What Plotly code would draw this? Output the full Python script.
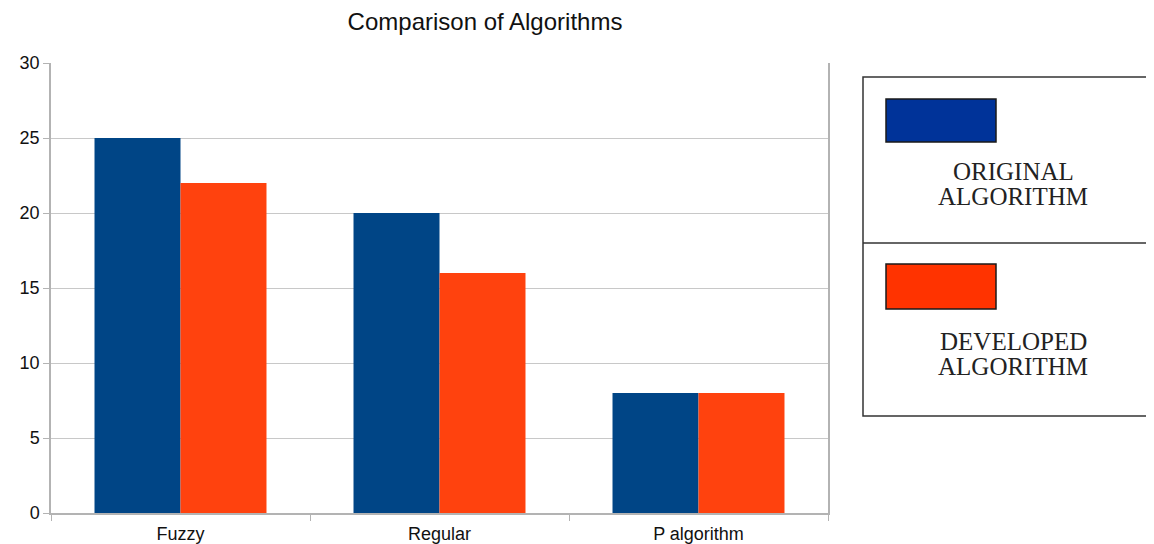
import plotly.graph_objects as go

categories = ["Fuzzy", "Regular", "P algorithm"]
original = [25, 20, 8]
developed = [22, 16, 8]
legend_lines = [["ORIGINAL", "ALGORITHM"], ["DEVELOPED", "ALGORITHM"]]
y_ticks = [0, 5, 10, 15, 20, 25, 30]

OFF = 8  # page body margin in the browser
W, H = 1154 - OFF, 544 - OFF
L, R, T, B = 51 - OFF, 828 - OFF, 63 - OFF, 513 - OFF


def px(x):
    return (x - OFF - L) / (R - L)


def py(y):
    return (B - (y - OFF)) / (B - T)


fig = go.Figure()
fig.add_trace(go.Bar(x=categories, y=original, name="ORIGINAL ALGORITHM",
                     marker=dict(color="#004586", line=dict(width=0))))
fig.add_trace(go.Bar(x=categories, y=developed, name="DEVELOPED ALGORITHM",
                     marker=dict(color="#ff420e", line=dict(width=0))))

fig.update_layout(
    width=W, height=H,
    margin=dict(l=L, r=W - R, t=T, b=H - B, pad=0, autoexpand=False),
    paper_bgcolor="white", plot_bgcolor="white",
    barmode="group", bargap=0.336, bargroupgap=0,
    showlegend=False,
    font=dict(family="Liberation Sans, Arial, sans-serif", size=18, color="#111111"),
    title=dict(text="Comparison of Algorithms", x=(485 - OFF) / W, xanchor="center",
               y=1 - (22 - OFF) / H, yanchor="middle",
               font=dict(family="Liberation Sans, Arial, sans-serif", size=24, color="#111111")),
)

fig.update_xaxes(showline=True, linecolor="#b3b3b3", linewidth=1.5, automargin=False,
                 ticks="outside", tickson="boundaries", ticklen=6, tickcolor="#b3b3b3",
                 ticklabelstandoff=4, showgrid=False, tickfont=dict(size=18))
fig.update_yaxes(range=[0, 30], tickvals=y_ticks, showline=True, mirror=True, automargin=False,
                 linecolor="#b3b3b3", linewidth=1.5, ticks="outside", ticklen=6,
                 tickcolor="#b3b3b3", gridcolor="#c8c8c8", gridwidth=1,
                 zeroline=False, tickfont=dict(size=18))

# custom legend box
box = dict(color="#333333", width=1.5)
fig.add_shape(type="rect", xref="paper", yref="paper",
              x0=px(863), x1=px(1170), y0=py(416), y1=py(77), line=box, fillcolor="rgba(0,0,0,0)")
fig.add_shape(type="line", xref="paper", yref="paper",
              x0=px(863), x1=px(1170), y0=py(243), y1=py(243), line=box)
fig.add_shape(type="rect", xref="paper", yref="paper",
              x0=px(886), x1=px(996), y0=py(142), y1=py(99),
              fillcolor="#003399", line=dict(color="#1a1a1a", width=1.5))
fig.add_shape(type="rect", xref="paper", yref="paper",
              x0=px(886), x1=px(996), y0=py(309), y1=py(264),
              fillcolor="#ff3300", line=dict(color="#1a1a1a", width=1.5))

for lines, ys in zip(legend_lines, [[171, 196], [341, 366]]):
    for text, yc in zip(lines, ys):
        fig.add_annotation(text=text, xref="paper", yref="paper", x=px(1013), y=py(yc),
                           xanchor="center", yanchor="middle", showarrow=False,
                           font=dict(family="Liberation Serif, Times New Roman, serif", size=25,
                                     color="#222222"))

fig.write_html("out.html")
